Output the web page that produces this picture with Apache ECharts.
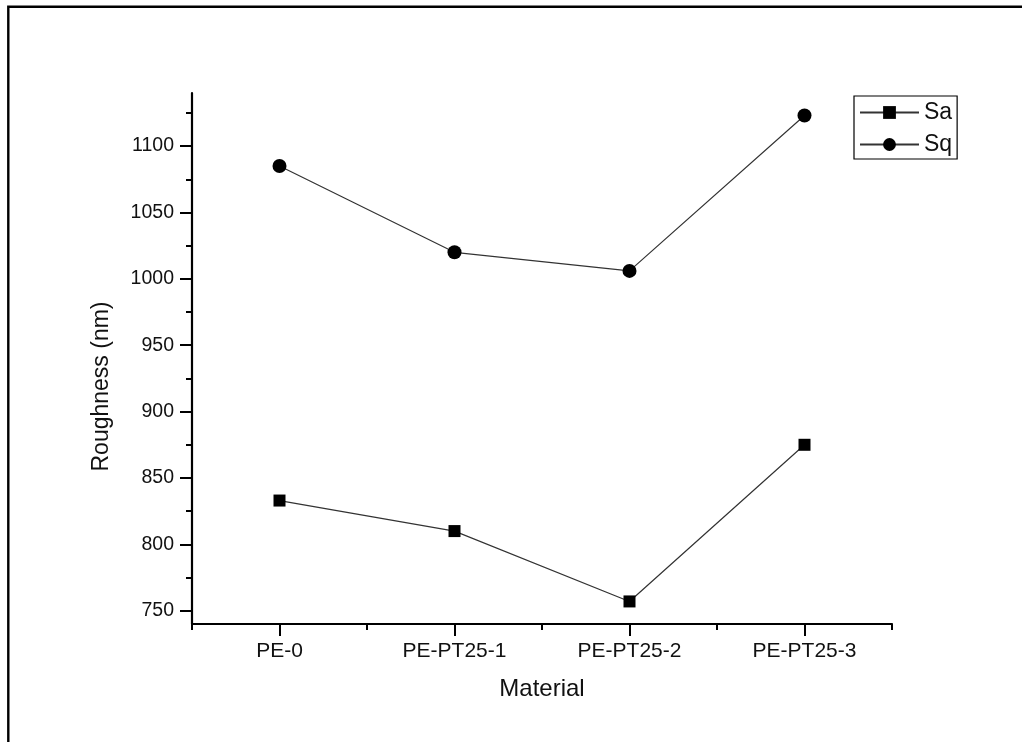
<!DOCTYPE html>
<html>
<head>
<meta charset="utf-8">
<script src="https://cdn.jsdelivr.net/npm/echarts@6/dist/echarts.min.js"></script>
<style>
html,body{margin:0;padding:0;background:#fff;}
#chart{width:1022px;height:742px;}
</style>
</head>
<body>
<div id="chart"></div>
<script>
const categories = ['PE-0', 'PE-PT25-1', 'PE-PT25-2', 'PE-PT25-3'];
const saValues = [833, 810, 757, 875];
const sqValues = [1085, 1020, 1006, 1123];
const yMajorTicks = [750, 800, 850, 900, 950, 1000, 1050, 1100];
const yMinorTicks = [775, 825, 875, 925, 975, 1025, 1075, 1125];
const yMin = 740, yMax = 1140;

const FONT = 'Liberation Sans, Arial, sans-serif';
const chart = echarts.init(document.getElementById('chart'));
chart.setOption({
  backgroundColor: '#fff',
  animation: false,
  graphic: [{
    type: 'rect', z: 100, silent: true,
    shape: { x: 8.3, y: 6.8, width: 1040, height: 760 },
    style: { fill: 'none', stroke: '#000', lineWidth: 2.4 }
  }],
  legend: {
    orient: 'vertical', left: 854, top: 96,
    padding: [5, 5, 3, 5],
    itemWidth: 59, itemHeight: 16, itemGap: 9,
    borderColor: '#000', borderWidth: 1.2,
    textStyle: { fontFamily: FONT, fontSize: 23, color: '#111', lineHeight: 23 },
    data: ['Sa', 'Sq']
  },
  grid: { left: 192, right: 130, top: 93, bottom: 118, containLabel: false },
  xAxis: [{
    type: 'category', data: categories, boundaryGap: true,
    name: 'Material', nameLocation: 'middle', nameGap: 53,
    nameTextStyle: { fontFamily: FONT, fontSize: 24, color: '#111' },
    axisLine: { show: true, lineStyle: { color: '#000', width: 2.2 } },
    axisTick: { show: true, alignWithLabel: true, length: 12, lineStyle: { color: '#000', width: 2 } },
    axisLabel: { fontFamily: FONT, fontSize: 21, color: '#111', margin: 17 },
    splitLine: { show: false }
  }, {
    type: 'category', data: categories, boundaryGap: true, position: 'bottom',
    axisLine: { show: false },
    axisTick: { show: true, alignWithLabel: false, length: 6, lineStyle: { color: '#000', width: 2 } },
    axisLabel: { show: false },
    splitLine: { show: false }
  }],
  yAxis: [{
    type: 'value', min: yMin, max: yMax,
    name: 'Roughness (nm)', nameLocation: 'middle', nameGap: 79,
    nameTextStyle: { fontFamily: FONT, fontSize: 23, color: '#111', padding: [0, 56, 0, 0] },
    axisLine: { show: true, lineStyle: { color: '#000', width: 2.2 } },
    axisTick: { show: true, length: 12, customValues: yMajorTicks, lineStyle: { color: '#000', width: 2 } },
    axisLabel: { fontFamily: FONT, fontSize: 19.5, color: '#111', margin: 18, customValues: yMajorTicks,
      formatter: function (v) { return String(v); } },
    splitLine: { show: false }
  }, {
    type: 'value', min: yMin, max: yMax, position: 'left',
    axisLine: { show: false },
    axisTick: { show: true, length: 6, customValues: yMinorTicks, lineStyle: { color: '#000', width: 2 } },
    axisLabel: { show: false, customValues: yMinorTicks },
    splitLine: { show: false }
  }],
  series: [{
    name: 'Sa', type: 'line', data: saValues,
    symbol: 'rect', symbolSize: 12,
    itemStyle: { color: '#000' },
    lineStyle: { color: '#333', width: 1.2 }
  }, {
    name: 'Sq', type: 'line', data: sqValues,
    symbol: 'circle', symbolSize: 14,
    itemStyle: { color: '#000' },
    lineStyle: { color: '#333', width: 1.2 }
  }]
});
</script>
</body>
</html>
